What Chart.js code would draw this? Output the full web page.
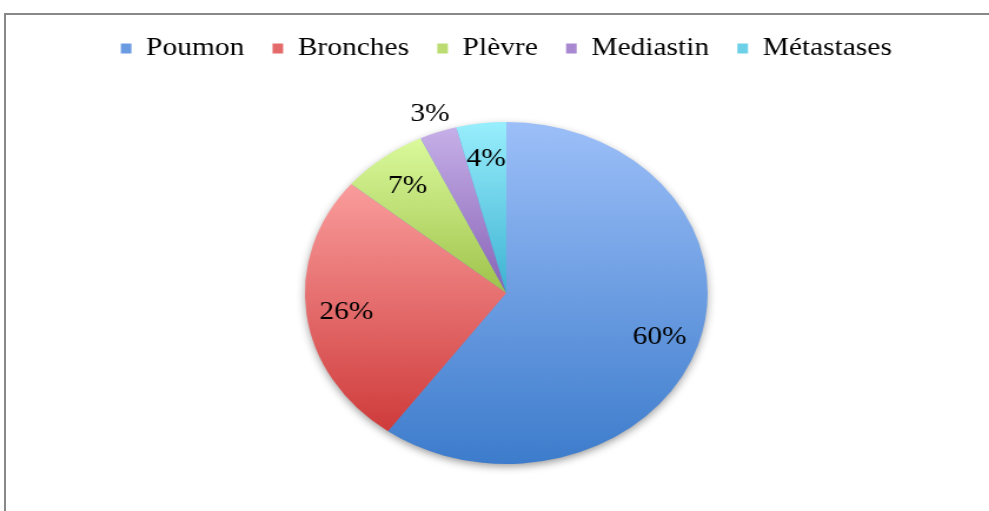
<!DOCTYPE html>
<html>
<head>
<meta charset="utf-8">
<script src="https://cdn.jsdelivr.net/npm/chart.js@4"></script>
<style>
  html, body { margin: 0; padding: 0; background: #fff; overflow: hidden; }
  #frame { position: absolute; left: 4px; top: 13px; width: 1000px; height: 520px;
           border-top: 2px solid #888; border-left: 2px solid #888; }
  /* the chart is drawn narrow and stretched sideways, so the pie comes out oval */
  #wrap { position: absolute; left: 0; top: 0; width: 840px; height: 511px;
          transform: scaleX(1.1775); transform-origin: 0 0; }
</style>
</head>
<body>
<div id="frame"></div>
<div id="wrap"><canvas id="pie" width="840" height="511"></canvas></div>
<script>
// Répartition des localisations (%)
const categories = ['Poumon', 'Bronches', 'Plèvre', 'Mediastin', 'Métastases'];
const percents = [60, 26, 7, 3, 4];

// palette: light at the top of each slice, dark at the bottom
const lightColors = ['#9cbff8', '#fa9c9c', '#dafa9c', '#c6b0e8', '#98eefc'];
const darkColors = ['#3d7ccc', '#cf3b3b', '#9fc24a', '#8862b6', '#3eb2d2'];
const legendColors = ['#6a9be2', '#e46a6a', '#bcdc72', '#a888d0', '#6cd0e8'];

const labelFont = '"Liberation Serif", "DejaVu Serif", serif';

// vertical gradient fitted to each slice's own height
function sliceFill(ctx) {
  const chart = ctx.chart;
  const i = ctx.dataIndex;
  const area = chart.chartArea;
  const ctrl = chart.getDatasetMeta(0).controller;
  if (!area || !ctrl || !ctrl.outerRadius) return legendColors[i];
  const cy = (area.top + area.bottom) / 2;
  const r = ctrl.outerRadius;
  const total = percents.reduce((a, b) => a + b, 0);
  let before = 0;
  for (let k = 0; k < i; k++) before += percents[k];
  const a0 = -Math.PI / 2 + 2 * Math.PI * before / total;
  const a1 = a0 + 2 * Math.PI * percents[i] / total;
  let yMin = cy, yMax = cy;
  for (let s = 0; s <= 60; s++) {
    const y = cy + r * Math.sin(a0 + (a1 - a0) * s / 60);
    yMin = Math.min(yMin, y);
    yMax = Math.max(yMax, y);
  }
  const g = chart.ctx.createLinearGradient(0, yMin, 0, yMax);
  g.addColorStop(0, lightColors[i]);
  g.addColorStop(1, darkColors[i]);
  return g;
}

// soft drop shadow under the pie
const pieShadow = {
  id: 'pieShadow',
  beforeDatasetsDraw(chart) {
    const arc = chart.getDatasetMeta(0).data[0];
    if (!arc) return;
    const c = chart.ctx;
    c.save();
    c.shadowColor = 'rgba(0,0,0,0.45)';
    c.shadowBlur = 8;
    c.shadowOffsetY = 3;
    c.beginPath();
    c.arc(arc.x, arc.y, arc.outerRadius - 1, 0, Math.PI * 2);
    c.fillStyle = '#5a8fd6';
    c.fill();
    c.restore();
  }
};

// percentage labels, small slices get theirs outside
const pctLabels = {
  id: 'pctLabels',
  afterDatasetsDraw(chart) {
    const c = chart.ctx;
    c.save();
    c.font = '25px ' + labelFont;
    c.fillStyle = '#000';
    c.textAlign = 'center';
    c.textBaseline = 'middle';
    chart.getDatasetMeta(0).data.forEach((arc, i) => {
      const mid = (arc.startAngle + arc.endAngle) / 2;
      const k = percents[i] < 4 ? 1.12 : 0.8;
      c.fillText(percents[i] + '%',
        arc.x + Math.cos(mid) * arc.outerRadius * k,
        arc.y + Math.sin(mid) * arc.outerRadius * k + 2);
    });
    c.restore();
  }
};

// leave more room between the legend and the pie
const legendSpacer = {
  id: 'legendSpacer',
  beforeInit(chart) {
    const fit = chart.legend.fit;
    chart.legend.fit = function () {
      fit.call(this);
      this.height += 51;
    };
  }
};

new Chart(document.getElementById('pie'), {
  type: 'pie',
  data: {
    labels: categories,
    datasets: [{
      data: percents,
      backgroundColor: sliceFill,
      borderWidth: 0
    }]
  },
  options: {
    responsive: false,
    animation: false,
    layout: { padding: { top: 12, left: 20, right: 0, bottom: 47 } },
    plugins: {
      tooltip: { enabled: false },
      legend: {
        position: 'top',
        labels: {
          font: { family: labelFont, size: 25 },
          color: '#000',
          boxWidth: 9,
          boxHeight: 10,
          padding: 24,
          generateLabels: (chart) => categories.map((name, i) => ({
            text: name,
            fillStyle: legendColors[i],
            strokeStyle: legendColors[i],
            lineWidth: 0,
            index: i
          }))
        }
      }
    }
  },
  plugins: [legendSpacer, pieShadow, pctLabels]
});
</script>
</body>
</html>
